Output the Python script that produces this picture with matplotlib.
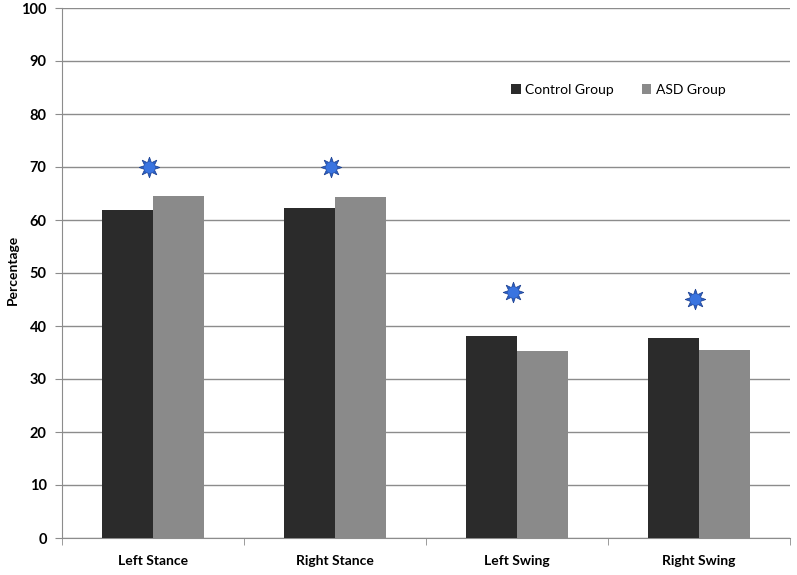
import matplotlib.pyplot as plt
import numpy as np

plt.rcParams['font.family'] = ['Lato', 'DejaVu Sans']

categories = ['Left Stance', 'Right Stance', 'Left Swing', 'Right Swing']
control = [61.9, 62.3, 38.1, 37.7]
asd = [64.5, 64.3, 35.3, 35.5]
star_y = [70.0, 70.0, 46.4, 45.1]

fig = plt.figure(figsize=(7.97, 5.75), dpi=100)
ax = fig.add_axes([62/797, 37/575, 728/797, 530/575])

x = np.arange(len(categories))
w = 0.28
ax.bar(x - w/2, control, w, color='#2b2b2b', label='Control Group', zorder=3)
ax.bar(x + w/2, asd, w, color='#8a8a8a', label='ASD Group', zorder=3)

# significance stars: spiky star with a round body
ax.plot(x - 0.02, star_y, linestyle='none', marker=(8, 1, 0), markersize=15,
        color='#2a5fc4', markeredgecolor='#1c3f8f', markeredgewidth=0.5, zorder=4)
ax.plot(x - 0.02, star_y, linestyle='none', marker='o', markersize=8,
        color='#3a74e0', markeredgewidth=0, zorder=5)

ax.set_xlim(-0.5, 3.5)
ax.set_ylim(0, 100)
ax.set_yticks(range(0, 101, 10))
ax.yaxis.grid(True, color='#8c8c8c', linewidth=1.0, zorder=0)
ax.set_axisbelow(True)

ax.set_xticks(x)
ax.set_xticklabels(categories, fontsize=10, fontweight='bold')
ax.set_xticks(np.arange(-0.5, 4.0, 1.0), minor=True)
ax.tick_params(axis='x', which='major', length=0, pad=12)
ax.tick_params(axis='x', which='minor', length=5, color='#8c8c8c')
ax.tick_params(axis='y', length=5, color='#8c8c8c', labelsize=10.5, pad=6)
for lbl in ax.get_yticklabels():
    lbl.set_fontweight('bold')

for s in ['top', 'right']:
    ax.spines[s].set_visible(False)
for s in ['left', 'bottom']:
    ax.spines[s].set_color('#8c8c8c')

ax.set_ylabel('Percentage', fontsize=10, fontweight='bold', va='center')
ax.yaxis.set_label_coords(-0.068, 0.505)

ax.legend(loc='upper left', bbox_to_anchor=(0.6, 0.88), ncol=2, frameon=False,
          fontsize=10, handlelength=0.7, handleheight=0.7, handletextpad=0.3,
          columnspacing=2.0)

fig.savefig('out.png', dpi=100)
